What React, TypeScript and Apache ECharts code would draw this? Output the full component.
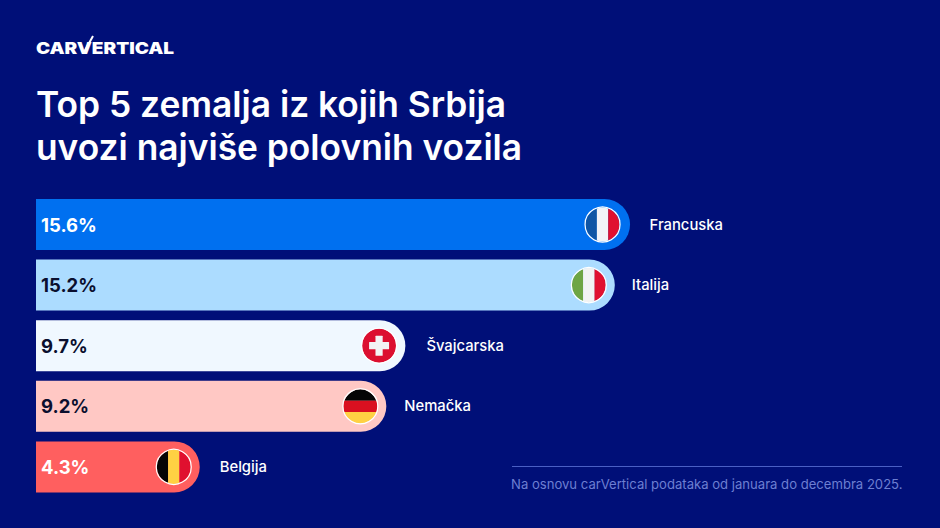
import React, { useEffect, useRef } from "react";
import * as echarts from "echarts";

const countries = ["Francuska", "Italija", "Švajcarska", "Nemačka", "Belgija"];
const values = [15.6, 15.2, 9.7, 9.2, 4.3];
const barColors = ["#0070f0", "#acdcff", "#f0f8ff", "#ffc8c4", "#ff5f5f"];
const valueColors = ["#ffffff", "#0a0f2e", "#0a0f2e", "#0a0f2e", "#ffffff"];
const nameGaps = [19.5, 17, 21, 18, 20];
const flagInsets = [27.5, 26, 26.3, 26, 26];
const flagKinds = ["fr", "it", "ch", "de", "be"];

const BG = "#000f78";
const FONT = "Inter, 'Noto Sans', sans-serif";
const R = 17;

const vStripe = (cx: number, cy: number, a: number, b: number) => {
  const ha = Math.sqrt(Math.max(R * R - a * a, 0));
  const hb = Math.sqrt(Math.max(R * R - b * b, 0));
  return `M${cx + a} ${cy - ha}A${R} ${R} 0 0 1 ${cx + b} ${cy - hb}L${cx + b} ${cy + hb}A${R} ${R} 0 0 1 ${cx + a} ${cy + ha}Z`;
};
const hStripe = (cx: number, cy: number, a: number, b: number) => {
  const wa = Math.sqrt(Math.max(R * R - a * a, 0));
  const wb = Math.sqrt(Math.max(R * R - b * b, 0));
  return `M${cx - wa} ${cy + a}L${cx + wa} ${cy + a}A${R} ${R} 0 0 1 ${cx + wb} ${cy + b}L${cx - wb} ${cy + b}A${R} ${R} 0 0 1 ${cx - wa} ${cy + a}Z`;
};
const stripe = (d: string, fill: string) => ({
  type: "path",
  shape: { pathData: d },
  style: { fill },
});
const verticalFlag = (cx: number, cy: number, cols: string[]) =>
  cols.map((c, i) =>
    stripe(vStripe(cx, cy, -R + (i * 2 * R) / 3, -R + ((i + 1) * 2 * R) / 3), c)
  );
const horizontalFlag = (cx: number, cy: number, cols: string[]) =>
  cols.map((c, i) =>
    stripe(hStripe(cx, cy, -R + (i * 2 * R) / 3, -R + ((i + 1) * 2 * R) / 3), c)
  );

const flagShapes = (kind: string, cx: number, cy: number): any[] => {
  const ring = {
    type: "circle",
    shape: { cx, cy, r: R + 0.5 },
    style: { fill: "none", stroke: "#ffffff", lineWidth: 1.2 },
  };
  if (kind === "fr") return [...verticalFlag(cx, cy, ["#0f55a5", "#f2f3f7", "#e0102f"]), ring];
  if (kind === "it") return [...verticalFlag(cx, cy, ["#6ea544", "#f2f3f3", "#e0102f"]), ring];
  if (kind === "be") return [...verticalFlag(cx, cy, ["#050505", "#ffd143", "#e0102f"]), ring];
  if (kind === "de") return [...horizontalFlag(cx, cy, ["#050505", "#da1020", "#ffd143"]), ring];
  return [
    { type: "circle", shape: { cx, cy, r: R }, style: { fill: "#dc0f30" } },
    { type: "rect", shape: { x: cx - 10, y: cy - 3.6, width: 20, height: 7.2, r: 0.5 }, style: { fill: "#f2f3f5" } },
    { type: "rect", shape: { x: cx - 3.6, y: cy - 10, width: 7.2, height: 20, r: 0.5 }, style: { fill: "#f2f3f5" } },
    ring,
  ];
};

export default function App() {
  const ref = useRef<HTMLDivElement>(null);
  useEffect(() => {
    document.body.style.margin = "0";
    const chart = echarts.init(ref.current!, null, { renderer: "svg" });
    chart.setOption({
      animation: false,
      backgroundColor: BG,
      grid: { left: 36, top: 194.2, width: 761.6, height: 303 },
      xAxis: { type: "value", min: 0, max: 20, show: false },
      yAxis: { type: "category", inverse: true, data: countries, show: false },
      graphic: [
        {
          type: "text",
          x: 36,
          y: 40,
          scaleX: 1.185,
          style: { text: "CARVERTICAL", fill: "#ffffff", font: `900 16px ${FONT}` },
        },
        {
          type: "line",
          shape: { x1: 83.5, y1: 53, x2: 93, y2: 36 },
          style: { stroke: "#ffffff", lineWidth: 2 },
        },
        {
          type: "text",
          x: 36,
          y: 87,
          style: { text: "Top 5 zemalja iz kojih Srbija", fill: "#ffffff", font: `600 35.3px ${FONT}` },
        },
        {
          type: "text",
          x: 36,
          y: 130,
          style: { text: "uvozi najviše polovnih vozila", fill: "#ffffff", font: `600 35.3px ${FONT}` },
        },
        {
          type: "line",
          shape: { x1: 512, y1: 466.5, x2: 902, y2: 466.5 },
          style: { stroke: "#4a5fc4", lineWidth: 1 },
        },
        {
          type: "text",
          x: 902.5,
          y: 477,
          style: {
            text: "Na osnovu carVertical podataka od januara do decembra 2025.",
            fill: "#6d7fd2",
            font: `400 13.1px ${FONT}`,
            align: "right",
          },
        },
      ],
      series: [
        {
          type: "bar",
          barWidth: 51,
          z: 2,
          data: values.map((v, i) => ({
            value: v,
            itemStyle: { color: barColors[i], borderRadius: [0, 25.5, 25.5, 0] },
            label: {
              show: true,
              position: "insideLeft",
              distance: 5,
              formatter: `${v}%`,
              color: valueColors[i],
              fontFamily: FONT,
              fontWeight: 700,
              fontSize: 18.5,
            },
          })),
        },
        {
          type: "custom",
          clip: false,
          silent: true,
          z: 5,
          data: values.map((v, i) => [v, i]),
          renderItem: (_p: any, api: any) => {
            const i = api.value(1);
            const [x, y] = api.coord([api.value(0), i]);
            return {
              type: "group",
              children: [
                ...flagShapes(flagKinds[i], x - flagInsets[i], y),
                {
                  type: "text",
                  style: {
                    text: countries[i],
                    x: x + nameGaps[i],
                    y,
                    fill: "#ffffff",
                    font: `500 14.8px ${FONT}`,
                    verticalAlign: "middle",
                  },
                },
              ],
            };
          },
        },
      ],
    });
    return () => chart.dispose();
  }, []);
  return <div ref={ref} style={{ width: 940, height: 528 }} />;
}
